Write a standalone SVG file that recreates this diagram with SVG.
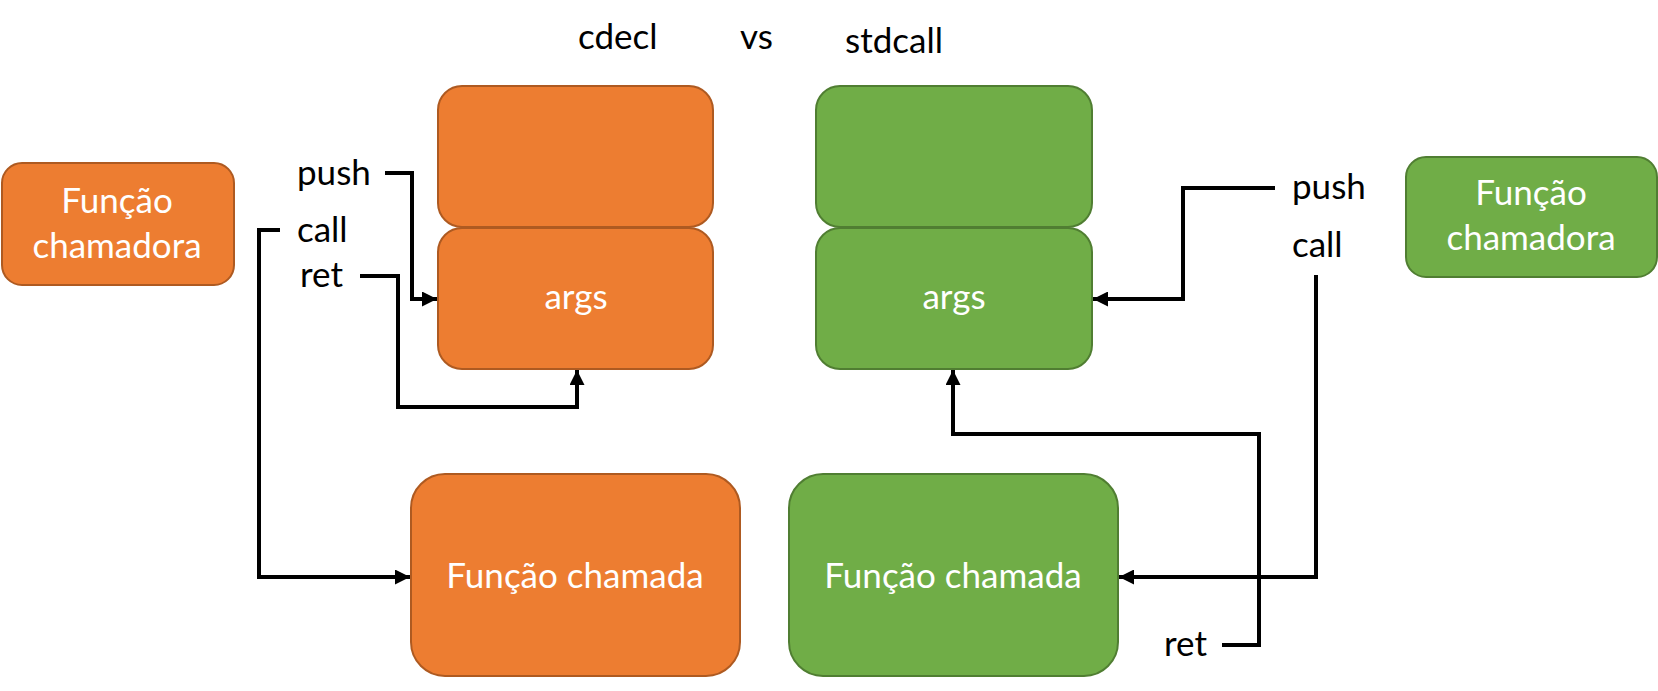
<svg xmlns="http://www.w3.org/2000/svg" width="1658" height="691" viewBox="0 0 1658 691">
<defs>
<style>
.t{font-family:Lato,"Open Sans","Liberation Sans",sans-serif;font-size:35px;}
.k{fill:#000;}
.w{fill:#fff;text-anchor:middle;}
.or{fill:#ED7D31;stroke:#AE5A21;stroke-width:2;}
.gr{fill:#70AD47;stroke:#507E32;stroke-width:2;}
.c{fill:none;stroke:#000;stroke-width:4;}
</style>
<marker id="ah" viewBox="0 0 10 10" refX="10" refY="5" markerWidth="15" markerHeight="15" markerUnits="userSpaceOnUse" orient="auto">
<path d="M0,0 L10,5 L0,10 z" fill="#000"/>
</marker>
</defs>
<rect width="1658" height="691" fill="#fff"/>
<g id="titles">
<text class="t k" x="578" y="49">cdecl</text>
<text class="t k" x="740" y="49">vs</text>
<text class="t k" x="845" y="53">stdcall</text>
</g>
<g id="cdecl-chamadora">
<rect class="or" x="2" y="163" width="232" height="122" rx="20"/>
<text class="t w" x="117" y="213">Função</text>
<text class="t w" x="117" y="258">chamadora</text>
</g>
<g id="cdecl-stack-top">
<rect class="or" x="438" y="86" width="275" height="141" rx="24"/>
</g>
<g id="cdecl-args">
<rect class="or" x="438" y="228" width="275" height="141" rx="24"/>
<text class="t w" x="576" y="309">args</text>
</g>
<g id="cdecl-chamada">
<rect class="or" x="411" y="474" width="329" height="202" rx="34"/>
<text class="t w" x="575" y="588">Função chamada</text>
</g>
<g id="stdcall-stack-top">
<rect class="gr" x="816" y="86" width="276" height="141" rx="24"/>
</g>
<g id="stdcall-args">
<rect class="gr" x="816" y="228" width="276" height="141" rx="24"/>
<text class="t w" x="954" y="309">args</text>
</g>
<g id="stdcall-chamada">
<rect class="gr" x="789" y="474" width="329" height="202" rx="34"/>
<text class="t w" x="953" y="588">Função chamada</text>
</g>
<g id="stdcall-chamadora">
<rect class="gr" x="1406" y="157" width="251" height="120" rx="20"/>
<text class="t w" x="1531" y="205">Função</text>
<text class="t w" x="1531" y="250">chamadora</text>
</g>
<g id="labels">
<text class="t k" x="297" y="185">push</text>
<text class="t k" x="297" y="242">call</text>
<text class="t k" x="300" y="287">ret</text>
<text class="t k" x="1292" y="199">push</text>
<text class="t k" x="1292" y="257">call</text>
<text class="t k" x="1164" y="656">ret</text>
</g>
<g id="connectors">
<path class="c" d="M385,173 H412 V299 H437" marker-end="url(#ah)"/>
<path class="c" d="M360,276 H398 V407 H577 V370" marker-end="url(#ah)"/>
<path class="c" d="M280,230 H259 V577 H410" marker-end="url(#ah)"/>
<path class="c" d="M1275,188 H1183 V299 H1093" marker-end="url(#ah)"/>
<path class="c" d="M1316,275 V577 H1119" marker-end="url(#ah)"/>
<path class="c" d="M1222,645 H1259 V434 H953 V370" marker-end="url(#ah)"/>
</g>
</svg>
